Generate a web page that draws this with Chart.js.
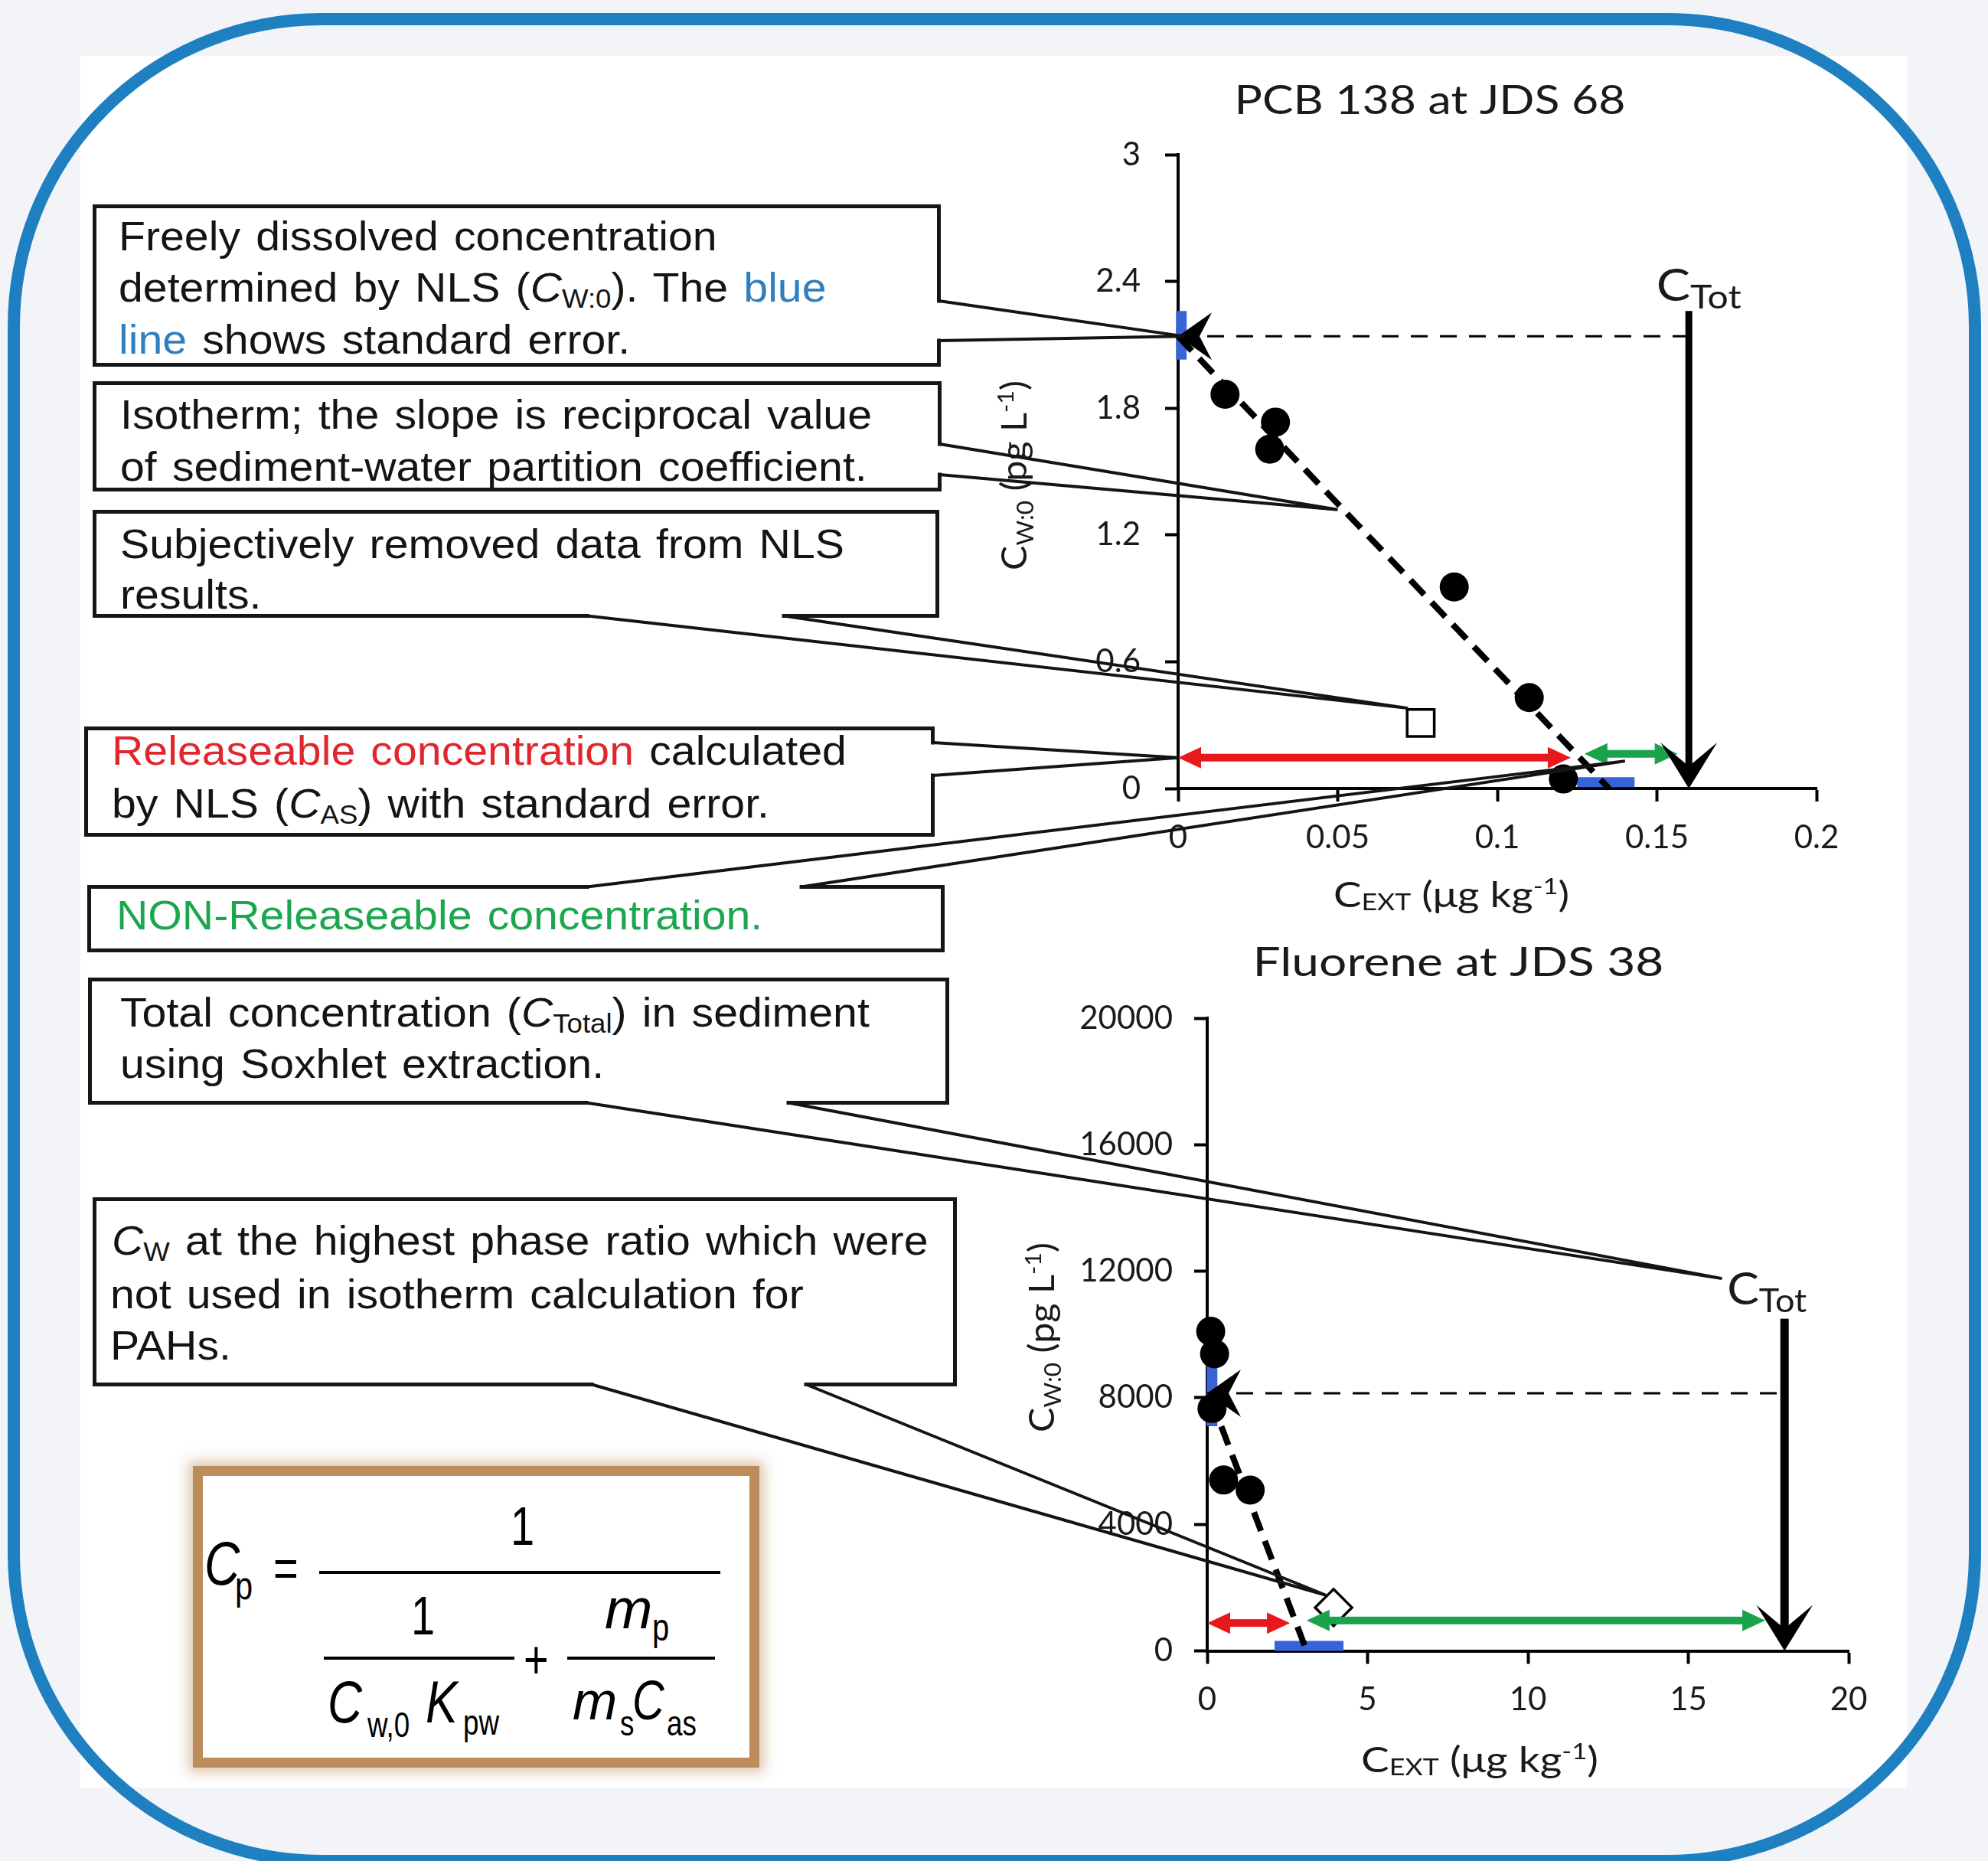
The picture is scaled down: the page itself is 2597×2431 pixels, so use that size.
<!DOCTYPE html>
<html>
<head>
<meta charset="utf-8">
<script src="https://cdn.jsdelivr.net/npm/chart.js@4.4.1/dist/chart.umd.min.js"></script>
<style>
html, body { margin: 0; padding: 0; background: #f3f4f8; }
#page { position: relative; width: 2597px; height: 2431px; overflow: hidden; background: #f3f4f8; }
#panel { position: absolute; left: 105px; top: 73px; width: 2386px; height: 2262px; background: #fff; }
#frame { position: absolute; left: 10px; top: 17px; width: 2578px; height: 2422px; box-sizing: border-box;
         border: 16px solid #1f80c1; border-radius: 410px; }
canvas { position: absolute; }
.box { position: absolute; box-sizing: border-box; border: 5px solid #161616; background: #fff; }
.ln { position: absolute; white-space: nowrap; font-family: 'Liberation Sans', Arial, sans-serif; font-size: 54px;
      line-height: 54px; color: #141414; transform: scaleX(1.06); transform-origin: 0 0; word-spacing: 4px; }
.ln sub { font-size: 0.64em; vertical-align: -0.22em; line-height: 0; }
.blue { color: #2f7fc1; }
.red { color: #e2262d; }
.green { color: #1ca64f; }
#formula { position: absolute; left: 252px; top: 1915px; width: 740px; height: 394px; box-sizing: border-box;
           border: 13px solid #bc8d5a; background: #fff; box-shadow: 0 0 16px 6px rgba(188, 141, 90, 0.5); }
.fg { position: absolute; white-space: nowrap; font-family: 'Liberation Sans', Arial, sans-serif; line-height: 1;
      color: #000; transform-origin: 0 0; }
.bar { position: absolute; height: 4px; background: #000; }
#overlay { left: 0; top: 0; z-index: 5; pointer-events: none; }
</style>
</head>
<body>
<div id="page">
  <div id="panel"></div>
  <div id="frame"></div>
  <canvas id="pcb" width="1260" height="1150" style="left:1240px;top:60px;"></canvas>
  <canvas id="flu" width="1300" height="1190" style="left:1240px;top:1210px;"></canvas>
  <div id="formula"></div>
  <canvas id="overlay" width="2597" height="2431"></canvas>
</div>
<script>
// ---- PCB 138 at JDS 68 ----
const pcbXTicks = [0, 0.05, 0.1, 0.15, 0.2];
const pcbXLabels = ['0', '0.05', '0.1', '0.15', '0.2'];
const pcbYTicks = [0, 0.6, 1.2, 1.8, 2.4, 3];
const pcbYLabels = ['0', '0.6', '1.2', '1.8', '2.4', '3'];
const pcbX = [0.0147, 0.0305, 0.0287, 0.0865, 0.1100, 0.1207];
const pcbY = [1.866, 1.734, 1.606, 0.954, 0.430, 0.045];
const pcbRemovedX = [0.076];
const pcbRemovedY = [0.31];
const pcbIsoX = [0, 0.135];
const pcbIsoY = [2.14, 0];
const pcbCw0 = 2.14;
const pcbCw0Err = [2.03, 2.26];
const pcbCw0ErrX = 0.001;
const pcbCas = 0.123;
const pcbCasErr = [0.125, 0.143];
const pcbCasErrY = 0.03;
const pcbCTot = 0.16;
const pcbCTotTop = 2.26;
const pcbRelY = 0.146;
const pcbNonRel = [0.1273, 0.1565];
const pcbNonRelY = 0.164;
const pcbTipX = [0.002, 0.05, 0.072, 0, 0.14];
const pcbTipY = [2.14, 1.32, 0.38, 0.146, 0.13];

// ---- Fluorene at JDS 38 ----
const fluXTicks = [0, 5, 10, 15, 20];
const fluXLabels = ['0', '5', '10', '15', '20'];
const fluYTicks = [0, 4000, 8000, 12000, 16000, 20000];
const fluYLabels = ['0', '4000', '8000', '12000', '16000', '20000'];
const fluX = [0.11, 0.23, 0.15, 0.51, 1.34];
const fluY = [10100, 9390, 7660, 5400, 5080];
const fluRemovedX = [3.94];
const fluRemovedY = [1370];
const fluIsoX = [0.1, 3.1];
const fluIsoY = [8000, 0];
const fluCw0 = 8140;
const fluCw0Err = [7100, 9030];
const fluCw0ErrX = 0.15;
const fluCas = 2.58;
const fluCasErr = [2.1, 4.25];
const fluCasErrY = 160;
const fluCTot = 18;
const fluCTotTop = 10500;
const fluRelY = 880;
const fluNonRel = [3.1, 17.4];
const fluNonRelY = 960;
const fluTipX = [16.05, 3.7];
const fluTipY = [11770, 1760];

const RED = '#e8191d', GREEN = '#1aa34a', BLUE = '#3763d6';

const page = document.getElementById('page');

// annotation boxes
const boxes = [
  { l: 121, t: 267, r: 1229, b: 479, lines: [
    [155, 327, 'Freely dissolved concentration'],
    [155, 394, 'determined by NLS (<i>C</i><sub>W:0</sub>). The <span class="blue">blue</span>'],
    [155, 462, '<span class="blue">line</span> shows standard error.']] },
  { l: 121, t: 498, r: 1230, b: 642, lines: [
    [157, 560, 'Isotherm; the slope is reciprocal value'],
    [157, 628, 'of sediment-water partition coefficient.']] },
  { l: 121, t: 666, r: 1227, b: 807, lines: [
    [157, 729, 'Subjectively removed data from NLS'],
    [157, 795, 'results.']] },
  { l: 110, t: 949, r: 1221, b: 1093, lines: [
    [146, 999, '<span class="red">Releaseable concentration</span> calculated'],
    [146, 1068, 'by NLS (<i>C</i><sub>AS</sub>) with standard error.']] },
  { l: 114, t: 1156, r: 1234, b: 1244, lines: [
    [152, 1214, '<span class="green">NON-Releaseable concentration.</span>']] },
  { l: 115, t: 1277, r: 1240, b: 1443, lines: [
    [157, 1341, 'Total concentration (<i>C</i><sub>Total</sub>) in sediment'],
    [157, 1408, 'using Soxhlet extraction.']] },
  { l: 121, t: 1564, r: 1250, b: 1811, lines: [
    [146, 1639, '<i>C</i><sub>W</sub> at the highest phase ratio which were'],
    [144, 1709, 'not used in isotherm calculation for'],
    [144, 1776, 'PAHs.']] }
];

boxes.forEach(bx => {
  const d = document.createElement('div');
  d.className = 'box';
  d.style.left = bx.l + 'px'; d.style.top = bx.t + 'px';
  d.style.width = (bx.r - bx.l) + 'px'; d.style.height = (bx.b - bx.t) + 'px';
  page.insertBefore(d, document.getElementById('overlay'));
  bx.lines.forEach(([x, base, html]) => {
    const s = document.createElement('div');
    s.className = 'ln';
    s.style.left = x + 'px';
    s.style.top = (base - 45.7) + 'px';
    s.innerHTML = html;
    page.insertBefore(s, document.getElementById('overlay'));
  });
});

// formula glyphs: text, left, baseline, size, italic, scaleX
const glyphs = [
  ['C', 267, 2071, 80, true, 0.8], ['p', 307, 2089, 52, false, 0.8],
  ['=', 357, 2073, 70, false, 0.8],
  ['1', 667, 2018, 70, false, 0.8],
  ['1', 537, 2135, 70, false, 0.8],
  ['C', 428, 2250, 78, true, 0.8], ['w,0', 480, 2269, 46, false, 0.8],
  ['K', 556, 2250, 78, true, 0.8], ['pw', 605, 2266, 46, false, 0.8],
  ['+', 684, 2192, 70, false, 0.8],
  ['m', 790, 2127, 75, true, 1.0], ['p', 852, 2143, 50, false, 0.8],
  ['m', 748, 2246, 70, true, 1.0], ['s', 810, 2267, 46, false, 0.8],
  ['C', 826, 2246, 72, true, 0.8], ['as', 871, 2267, 46, false, 0.8]
];
glyphs.forEach(([t, x, base, size, it, sx]) => {
  const s = document.createElement('div');
  s.className = 'fg';
  s.textContent = t;
  s.style.left = x + 'px';
  s.style.top = (base - 0.8465 * size) + 'px';
  s.style.fontSize = size + 'px';
  s.style.fontStyle = it ? 'italic' : 'normal';
  s.style.transform = 'scaleX(' + sx + ')';
  page.insertBefore(s, document.getElementById('overlay'));
});
[[417, 2052, 524], [423, 2164, 249], [741, 2164, 193]].forEach(([x, y, w]) => {
  const b = document.createElement('div');
  b.className = 'bar';
  b.style.left = x + 'px'; b.style.top = y + 'px'; b.style.width = w + 'px';
  page.insertBefore(b, document.getElementById('overlay'));
});

// chart helpers
function seg(xs, ys, width, dash, color) {
  return {
    data: xs.map((x, i) => ({ x: x, y: ys[i] })),
    showLine: true, borderColor: color || '#000', borderWidth: width, borderDash: dash || [],
    pointRadius: 0, borderCapStyle: 'butt', clip: false
  };
}

function stealth(ctx, tx, ty, dx, dy, len, hw, notch) {
  const px = -dy, py = dx;
  const bx = tx - dx * len, by = ty - dy * len;
  ctx.beginPath();
  ctx.moveTo(tx, ty);
  ctx.lineTo(bx + px * hw, by + py * hw);
  ctx.lineTo(tx - dx * notch, ty - dy * notch);
  ctx.lineTo(bx - px * hw, by - py * hw);
  ctx.closePath();
  ctx.fill();
}

function dblArrow(ctx, x1, x2, y, color, w, len, hw) {
  ctx.fillStyle = color;
  ctx.fillRect(x1 + len - 1, y - w / 2, x2 - x1 - 2 * len + 2, w);
  stealth(ctx, x1, y, -1, 0, len, hw, len);
  stealth(ctx, x2, y, 1, 0, len, hw, len);
}

function drawRich(ctx, parts, cx, cy, target, rotate) {
  ctx.save();
  ctx.translate(cx, cy);
  if (rotate) ctx.rotate(-Math.PI / 2);
  let w = 0;
  parts.forEach(p => { ctx.font = p[1] + 'px Lato'; w += ctx.measureText(p[0]).width; });
  ctx.scale(target ? target / w : 1, 1);
  const base = 0.35 * parts[0][1];
  let x = -w / 2;
  ctx.fillStyle = '#1a1a1a';
  ctx.textBaseline = 'alphabetic';
  ctx.textAlign = 'left';
  parts.forEach(p => {
    ctx.font = p[1] + 'px Lato';
    ctx.fillText(p[0], x, base + p[2]);
    x += ctx.measureText(p[0]).width;
  });
  ctx.restore();
}

function makeChart(id, c) {
  const last = a => a[a.length - 1];
  const marks = {
    id: 'marks_' + id,
    afterDatasetsDraw(chart) {
      const ctx = chart.ctx, X = v => chart.scales.x.getPixelForValue(v), Y = v => chart.scales.y.getPixelForValue(v);
      ctx.save();
      dblArrow(ctx, X(0), X(c.cas), Y(c.relY), RED, 10, 30, 14);
      dblArrow(ctx, X(c.nonRel[0]), X(c.nonRel[1]), Y(c.nonRelY), GREEN, 10, 30, 14);
      ctx.fillStyle = '#000';
      const ax = X(c.cTot), top = Y(c.cTotTop), bot = Y(0);
      ctx.fillRect(ax - c.shaft / 2, top, c.shaft, bot - top - 26);
      stealth(ctx, ax, bot, 0, 1, 60, 37, 29);
      stealth(ctx, X(0), Y(c.cw0), -1, 0, 44, 31, 28);
      ctx.restore();
    },
    afterDraw(chart) {
      const ctx = chart.ctx;
      drawRich(ctx, [[c.title, 52, 0]], c.titlePos[0], c.titlePos[1], c.titleW, false);
      drawRich(ctx, [['C', 46, 0], ['W:0', 30, 9], [' (pg L', 46, 0], ['-1', 29, -17], [')', 46, 0]],
        c.yTitlePos[0], c.yTitlePos[1], 248, true);
      drawRich(ctx, [['C', 46, 0], ['EXT', 30, 4], [' (\u03bcg kg', 46, 0], ['-1', 29, -17], [')', 46, 0]],
        c.xTitlePos[0], c.xTitlePos[1], c.xTitleW, false);
      const ax = chart.scales.x.getPixelForValue(c.cTot), top = chart.scales.y.getPixelForValue(c.cTotTop);
      drawRich(ctx, [['C', 58, 0], ['Tot', 42, 10]], ax + c.totDx, top - c.totDy, c.totW, false);
    }
  };
  const tickFont = { family: 'Lato', size: 42 };
  return new Chart(document.getElementById(id), {
    type: 'scatter',
    data: {
      datasets: [
        { data: c.px.map((x, i) => ({ x: x, y: c.py[i] })), pointRadius: 19, pointBackgroundColor: '#000',
          pointBorderWidth: 0, clip: false },
        { data: c.rx.map((x, i) => ({ x: x, y: c.ry[i] })), pointStyle: c.rStyle, pointRadius: c.rRadius,
          pointBackgroundColor: '#fff', pointBorderColor: '#000', pointBorderWidth: 3.5, clip: false },
        seg(c.isoX, c.isoY, 8, [26, 14]),
        seg([0, c.cTot], [c.cw0, c.cw0], 3, [22, 16]),
        seg([c.cw0ErrX, c.cw0ErrX], c.cw0Err, 14, [], BLUE),
        seg(c.casErr, [c.casErrY, c.casErrY], 13, [], BLUE)
      ]
    },
    options: {
      responsive: false, animation: false, events: [],
      layout: { padding: { left: 0, top: c.padTop, right: c.padRight, bottom: 0 } },
      plugins: { legend: { display: false }, tooltip: { enabled: false }, title: { display: false } },
      scales: {
        x: {
          type: 'linear', min: c.xTicks[0], max: last(c.xTicks),
          afterBuildTicks: s => { s.ticks = c.xTicks.map(v => ({ value: v })); },
          afterFit: s => { s.height = c.xHeight; },
          ticks: { callback: (v, i) => c.xLabels[i], font: tickFont, color: '#1a1a1a', padding: c.xPad,
                   maxRotation: 0, autoSkip: false },
          grid: { drawOnChartArea: false, drawTicks: true, tickLength: 17, tickWidth: 4, tickColor: '#000' },
          border: { color: '#000', width: 4 }
        },
        y: {
          type: 'linear', min: c.yTicks[0], max: last(c.yTicks),
          afterBuildTicks: s => { s.ticks = c.yTicks.map(v => ({ value: v })); },
          afterFit: s => { s.width = c.yWidth; },
          ticks: { callback: (v, i) => c.yLabels[i], font: tickFont, color: '#1a1a1a', padding: c.yPad },
          grid: { drawOnChartArea: false, drawTicks: true, tickLength: 17, tickWidth: 4, tickColor: '#000' },
          border: { color: '#000', width: 4 }
        }
      }
    },
    plugins: [marks]
  });
}

const pcbPos = { left: 1240, top: 60 };
const fluPos = { left: 1240, top: 1210 };

const pcbChart = makeChart('pcb', {
  xTicks: pcbXTicks, xLabels: pcbXLabels, yTicks: pcbYTicks, yLabels: pcbYLabels,
  px: pcbX, py: pcbY, rx: pcbRemovedX, ry: pcbRemovedY, rStyle: 'rect', rRadius: 25,
  isoX: pcbIsoX, isoY: pcbIsoY, cw0: pcbCw0, cw0Err: pcbCw0Err, cw0ErrX: pcbCw0ErrX,
  cas: pcbCas, casErr: pcbCasErr, casErrY: pcbCasErrY, cTot: pcbCTot, cTotTop: pcbCTotTop,
  relY: pcbRelY, nonRel: pcbNonRel, nonRelY: pcbNonRelY, shaft: 9,
  padTop: 142, padRight: 127, yWidth: 299, xHeight: 180, xPad: 22, yPad: 32,
  title: 'PCB 138 at JDS 68', titlePos: [628, 71], titleW: 511,
  yTitlePos: [85, 561], xTitlePos: [656, 1109], xTitleW: 308,
  totDx: 13, totDy: 34, totW: 111
});

const fluChart = makeChart('flu', {
  xTicks: fluXTicks, xLabels: fluXLabels, yTicks: fluYTicks, yLabels: fluYLabels,
  px: fluX, py: fluY, rx: fluRemovedX, ry: fluRemovedY, rStyle: 'rectRot', rRadius: 24,
  isoX: fluIsoX, isoY: fluIsoY, cw0: fluCw0, cw0Err: fluCw0Err, cw0ErrX: fluCw0ErrX,
  cas: fluCas, casErr: fluCasErr, casErrY: fluCasErrY, cTot: fluCTot, cTotTop: fluCTotTop,
  relY: fluRelY, nonRel: fluNonRel, nonRelY: fluNonRelY, shaft: 11,
  padTop: 120, padRight: 125, yWidth: 337, xHeight: 243.5, xPad: 22, yPad: 28,
  title: 'Fluorene at JDS 38', titlePos: [665, 47], titleW: 537,
  yTitlePos: [121, 537], xTitlePos: [693, 1089], xTitleW: 310,
  totDx: -23, totDy: 39, totW: 104
});

// callout wedges from the boxes to the chart features
const callouts = [
  { box: 0, edge: 'right', p: [393, 445], chart: 'pcb', tip: 0 },
  { box: 1, edge: 'right', p: [580, 620], chart: 'pcb', tip: 1 },
  { box: 2, edge: 'bottom', p: [767, 1024], chart: 'pcb', tip: 2 },
  { box: 3, edge: 'right', p: [970, 1013], chart: 'pcb', tip: 3 },
  { box: 4, edge: 'top', p: [767, 1047], chart: 'pcb', tip: 4 },
  { box: 5, edge: 'bottom', p: [766, 1030], chart: 'flu', tip: 0 },
  { box: 6, edge: 'bottom', p: [773, 1053], chart: 'flu', tip: 1 }
];

function drawCallouts() {
  const ctx = document.getElementById('overlay').getContext('2d');
  callouts.forEach(c => {
    const bx = boxes[c.box];
    const ch = c.chart === 'pcb' ? pcbChart : fluChart;
    const pos = c.chart === 'pcb' ? pcbPos : fluPos;
    const tx = c.chart === 'pcb' ? pcbTipX[c.tip] : fluTipX[c.tip];
    const ty = c.chart === 'pcb' ? pcbTipY[c.tip] : fluTipY[c.tip];
    const px = pos.left + ch.scales.x.getPixelForValue(tx);
    const py = pos.top + ch.scales.y.getPixelForValue(ty);
    let a, b;
    ctx.fillStyle = '#fff';
    if (c.edge === 'right') {
      ctx.fillRect(bx.r - 6, c.p[0] + 2.5, 7, c.p[1] - c.p[0] - 5);
      a = [bx.r - 2.5, c.p[0]]; b = [bx.r - 2.5, c.p[1]];
    } else if (c.edge === 'bottom') {
      ctx.fillRect(c.p[0] + 2.5, bx.b - 6, c.p[1] - c.p[0] - 5, 7);
      a = [c.p[0], bx.b - 2.5]; b = [c.p[1], bx.b - 2.5];
    } else {
      ctx.fillRect(c.p[0] + 2.5, bx.t - 1, c.p[1] - c.p[0] - 5, 7);
      a = [c.p[0], bx.t + 2.5]; b = [c.p[1], bx.t + 2.5];
    }
    ctx.strokeStyle = '#141414';
    ctx.lineWidth = 4;
    ctx.lineJoin = 'miter';
    ctx.beginPath();
    ctx.moveTo(a[0], a[1]);
    ctx.lineTo(px, py);
    ctx.lineTo(b[0], b[1]);
    ctx.stroke();
  });
}
drawCallouts();
</script>
</body>
</html>
